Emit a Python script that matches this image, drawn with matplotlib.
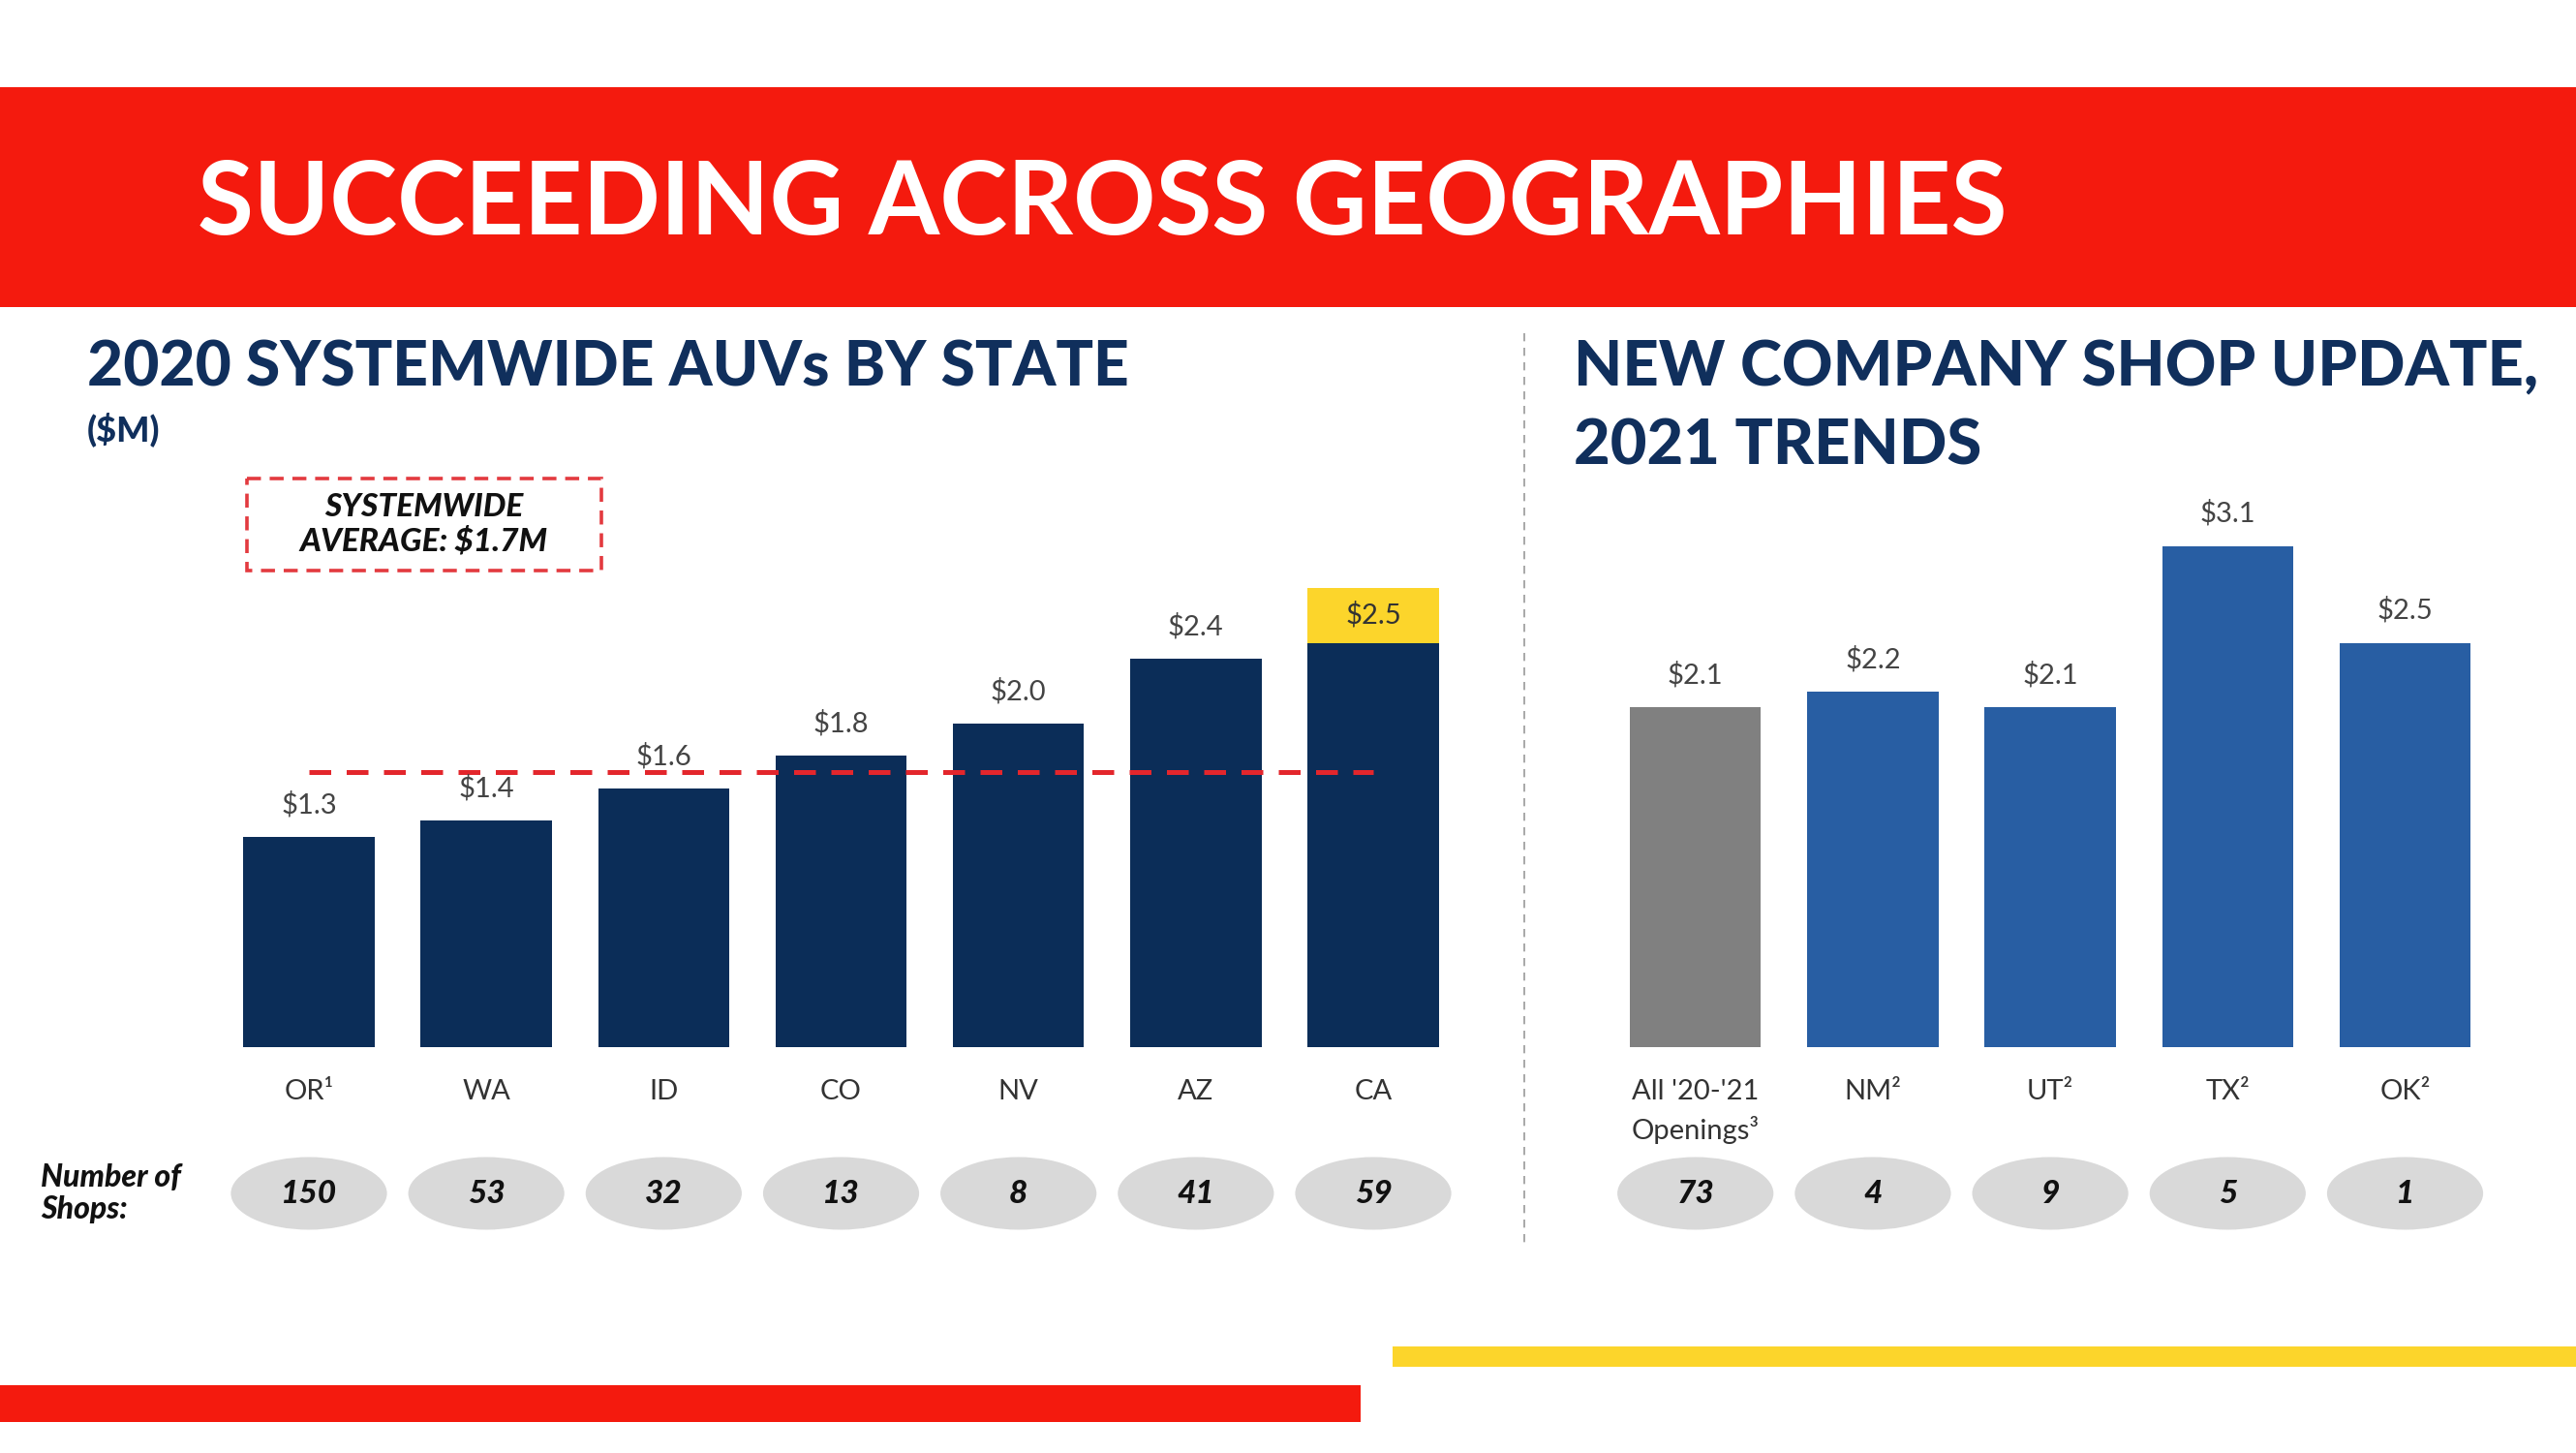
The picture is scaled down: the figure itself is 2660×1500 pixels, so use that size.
import matplotlib
matplotlib.use("Agg")
import matplotlib.pyplot as plt
from matplotlib.patches import Rectangle, Ellipse
from matplotlib.transforms import blended_transform_factory

# ---------------- data ----------------
left_states = ["OR¹", "WA", "ID", "CO", "NV", "AZ", "CA"]
left_auv = [1.3, 1.4, 1.6, 1.8, 2.0, 2.4, 2.5]
left_shops = [150, 53, 32, 13, 8, 41, 59]
systemwide_avg = 1.7

right_cats = ["All '20-'21\nOpenings³", "NM²", "UT²", "TX²", "OK²"]
right_auv = [2.1, 2.2, 2.1, 3.1, 2.5]
right_shops = [73, 4, 9, 5, 1]

main_title = "SUCCEEDING ACROSS GEOGRAPHIES"
left_title = "2020 SYSTEMWIDE AUVs BY STATE"
left_unit = "($M)"
right_title = "NEW COMPANY SHOP UPDATE,\n2021 TRENDS"
avg_label = "SYSTEMWIDE\nAVERAGE: $1.7M"
shops_label = "Number of\nShops:"

# ---------------- style ----------------
RED = "#f41a0e"
YELLOW = "#fcd52b"
NAVY = "#0b2d58"
BLUE = "#285ea3"
GRAY = "#808080"
TITLE_NAVY = "#102f5c"
PILL = "#d9d9d9"
FONT = "Lato"

W, H = 2660, 1500
fig = plt.figure(figsize=(W / 100, H / 100), dpi=100)
fig.patch.set_facecolor("white")

ov = fig.add_axes([0, 0, 1, 1], zorder=0)
ov.set_xlim(0, W)
ov.set_ylim(H, 0)
ov.axis("off")

renderer = fig.canvas.get_renderer()


def fit_text(ax, x, y, s, target_w, **kw):
    t = ax.text(x, y, s, **kw)
    bb = t.get_window_extent(renderer=renderer)
    fs = t.get_fontsize() * target_w / bb.width
    t.set_fontsize(fs)
    return t


# banner
ov.add_patch(Rectangle((0, 90), W, 227, color=RED, lw=0))
fit_text(ov, 204, 212, main_title, 1869, color="white", fontsize=80,
         fontweight="bold", family=FONT, va="center", ha="left")

# bottom stripes
ov.add_patch(Rectangle((0, 1430), 1405, 38, color=RED, lw=0))
ov.add_patch(Rectangle((1438, 1390), W - 1438, 21, color=YELLOW, lw=0))

# section titles
fit_text(ov, 90, 380, left_title, 1075, color=TITLE_NAVY, fontsize=44,
         fontweight="black", family=FONT, va="center", ha="left")
fit_text(ov, 90, 443, left_unit, 75, color=TITLE_NAVY, fontsize=22,
         fontweight="black", family=FONT, va="center", ha="left")
rt1, rt2 = right_title.split("\n")
t1 = fit_text(ov, 1625, 380, rt1, 996, color=TITLE_NAVY, fontsize=44,
              fontweight="black", family=FONT, va="center", ha="left")
ov.text(1625, 461, rt2, color=TITLE_NAVY, fontsize=t1.get_fontsize(),
        fontweight="black", family=FONT, va="center", ha="left")

# vertical divider
ov.plot([1574, 1574], [344, 1284], color="#9a9a9a", lw=1.2,
        linestyle=(0, (5, 4)))

# average box
ov.add_patch(Rectangle((255, 494), 366, 95, fill=False, edgecolor="#e33a3f",
                       lw=2.6, linestyle=(0, (4, 2.5))))
ov.text(438, 541, avg_label, ha="center", va="center", fontsize=24,
        fontweight="black", fontstyle="italic", family=FONT, color="#111111",
        linespacing=1.2)

# "Number of Shops:"
ov.text(42, 1232, shops_label, ha="left", va="center", fontsize=23,
        fontweight="black", fontstyle="italic", family=FONT, color="#111111",
        linespacing=1.15)

# ---------------- bar axes ----------------
BASE = 1080.6
PX_PER_M = 166.8
YMAX = 3.5
ax_h = YMAX * PX_PER_M


def make_ax(x0, x1):
    a = fig.add_axes([x0 / W, (H - BASE) / H, (x1 - x0) / W, ax_h / H], zorder=2)
    a.patch.set_alpha(0)
    a.set_ylim(0, YMAX)
    for sp in a.spines.values():
        sp.set_visible(False)
    a.set_yticks([])
    a.tick_params(axis="x", length=0, pad=24, labelsize=21, labelcolor="#333333")
    return a


axL = make_ax(227.4, 1509.6)
axR = make_ax(1659.1, 2575.1)

BW = 0.74
xl = list(range(len(left_states)))
xr = list(range(len(right_cats)))

axL.bar(xl, left_auv, width=BW, color=NAVY, zorder=2)
axL.set_xlim(-0.5, len(xl) - 0.5)
axL.set_xticks(xl, left_states, family=FONT)

# systemwide average line
axL.hlines(systemwide_avg, 0, len(xl) - 1, colors="#e3262c", lw=3.6,
           linestyles=[(0, (4.5, 3.2))], zorder=3)

# value labels
for i, v in enumerate(left_auv):
    if i == len(left_auv) - 1:
        axL.bar(i, 0.34, bottom=v, width=BW, color=YELLOW, zorder=2)
        axL.text(i, v + 0.17, f"${v:.1f}", ha="center", va="center",
                 fontsize=21, color="#333333", family=FONT, zorder=4)
    else:
        axL.text(i, v + 0.2, f"${v:.1f}", ha="center", va="center",
                 fontsize=21, color="#444444", family=FONT, zorder=4)

right_colors = [GRAY] + [BLUE] * (len(right_cats) - 1)
axR.bar(xr, right_auv, width=BW, color=right_colors, zorder=2)
axR.set_xlim(-0.5, len(xr) - 0.5)
axR.set_xticks(xr, right_cats, family=FONT, linespacing=1.5)
for i, v in enumerate(right_auv):
    axR.text(i, v + 0.2, f"${v:.1f}", ha="center", va="center",
             fontsize=21, color="#444444", family=FONT, zorder=4)

# shop count pills
PILL_Y = 1232
for a, xs, counts in ((axL, xl, left_shops), (axR, xr, right_shops)):
    tr = blended_transform_factory(a.transData, ov.transData)
    for i, n in zip(xs, counts):
        ov.add_patch(Ellipse((i, PILL_Y), 0.88, 75, transform=tr,
                             color=PILL, lw=0, clip_on=False))
        ov.text(i, PILL_Y, str(n), transform=tr, ha="center", va="center",
                fontsize=24, fontweight="black", fontstyle="italic",
                family=FONT, color="#111111", clip_on=False)

fig.savefig("out.png", dpi=100, facecolor="white")
